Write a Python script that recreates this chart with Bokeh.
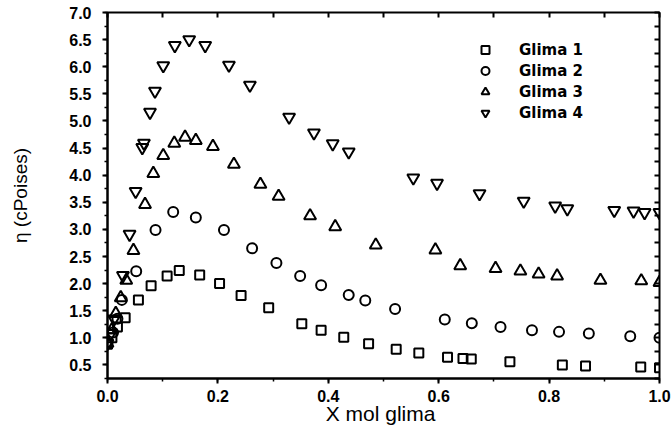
from bokeh.plotting import figure
from bokeh.models import (Range1d, LinearAxis, SingleIntervalTicker, NumeralTickFormatter,
                          Legend, LegendItem, CustomJSTickFormatter)
from bokeh.embed import file_html
from bokeh.resources import INLINE

# ---- data ----
glima1_x = [0.0, 0.008, 0.018, 0.032, 0.056, 0.079, 0.108, 0.130, 0.167, 0.203, 0.242, 0.292,
            0.352, 0.387, 0.428, 0.473, 0.523, 0.564, 0.616, 0.644, 0.659, 0.729, 0.824, 0.866,
            0.966, 1.0]
glima1_y = [0.88, 1.00, 1.20, 1.37, 1.70, 1.96, 2.14, 2.24, 2.16, 2.00, 1.78, 1.555,
            1.26, 1.14, 1.01, 0.89, 0.79, 0.72, 0.64, 0.62, 0.61, 0.56, 0.50, 0.48,
            0.46, 0.45]

glima2_x = [0.0, 0.010, 0.018, 0.026, 0.052, 0.087, 0.119, 0.160, 0.211, 0.262, 0.306, 0.349,
            0.387, 0.437, 0.467, 0.521, 0.611, 0.660, 0.712, 0.769, 0.818, 0.872, 0.947, 1.0]
glima2_y = [0.90, 1.10, 1.35, 1.70, 2.23, 2.99, 3.32, 3.22, 2.99, 2.65, 2.38, 2.14,
            1.97, 1.79, 1.69, 1.53, 1.34, 1.27, 1.20, 1.14, 1.11, 1.08, 1.03, 1.00]

glima3_x = [0.0, 0.008, 0.015, 0.024, 0.034, 0.047, 0.068, 0.083, 0.101, 0.121, 0.1405, 0.160,
            0.191, 0.229, 0.277, 0.310, 0.367, 0.4125, 0.486, 0.594, 0.639, 0.703, 0.748, 0.781,
            0.8145, 0.893, 0.967, 1.0]
glima3_y = [0.90, 1.15, 1.45, 1.74, 2.06, 2.61, 3.46, 4.03, 4.36, 4.59, 4.70, 4.64,
            4.53, 4.20, 3.83, 3.61, 3.25, 3.05, 2.71, 2.62, 2.33, 2.28, 2.23, 2.175,
            2.14, 2.06, 2.05, 2.02]

glima4_x = [0.0, 0.006, 0.012, 0.028, 0.040, 0.051, 0.063, 0.066, 0.077, 0.086, 0.101, 0.122,
            0.148, 0.177, 0.220, 0.258, 0.329, 0.374, 0.408, 0.437, 0.554, 0.597, 0.674, 0.754,
            0.811, 0.833, 0.918, 0.953, 0.973, 1.0]
glima4_y = [0.90, 1.08, 1.35, 2.15, 2.91, 3.70, 4.51, 4.59, 5.16, 5.55, 6.02, 6.39,
            6.50, 6.39, 6.03, 5.66, 5.07, 4.78, 4.58, 4.43, 3.95, 3.85, 3.66, 3.52,
            3.43, 3.38, 3.35, 3.34, 3.31, 3.31]

series_labels = ["Glima 1", "Glima 2", "Glima 3", "Glima 4"]
x_title = "X  mol glima"
y_title = "η (cPoises)"

# ---- figure ----
p = figure(width=672, height=436, output_backend="svg", toolbar_location=None,
           x_range=Range1d(0.0, 1.0), y_range=Range1d(0.25, 7.0),
           min_border_left=107, min_border_right=13, min_border_top=12, min_border_bottom=58,
           background_fill_color="white", border_fill_color="white")
p.grid.visible = False
p.outline_line_color = "black"
p.outline_line_width = 2

TICK_FONT = "Liberation Sans"

xa = p.xaxis[0]
xa.ticker = SingleIntervalTicker(interval=0.2, num_minor_ticks=2)
xa.formatter = NumeralTickFormatter(format="0.0")
ya = p.yaxis[0]
ya.ticker = SingleIntervalTicker(interval=0.5, num_minor_ticks=2)
ya.formatter = NumeralTickFormatter(format="0.0")
for ax in (xa, ya):
    ax.axis_line_width = 2
    ax.major_tick_line_width = 2
    ax.minor_tick_line_width = 1.5
    ax.major_tick_out = 5
    ax.major_tick_in = 0
    ax.minor_tick_out = 3
    ax.minor_tick_in = 0
    ax.major_label_text_font = TICK_FONT
    ax.major_label_text_font_style = "bold"
    ax.major_label_text_font_size = "16px"
    ax.major_label_text_color = "black"
    ax.axis_label_text_font = "Liberation Sans"
    ax.axis_label_text_font_style = "normal"
    ax.axis_label_text_color = "black"
xa.major_label_standoff = 6
ya.major_label_standoff = 11

xa.axis_label = x_title
xa.axis_label_text_font_size = "21px"
xa.axis_label_standoff = -3

ya.axis_label = y_title
ya.axis_label_text_font_size = "19px"
ya.axis_label_standoff = 35

blank = CustomJSTickFormatter(code="return ''")
top = LinearAxis(ticker=SingleIntervalTicker(interval=0.1, num_minor_ticks=0),
                 formatter=blank, axis_line_color=None, major_tick_in=5, major_tick_out=0,
                 major_tick_line_width=2, minor_tick_line_color=None, major_label_standoff=0)
right = LinearAxis(ticker=SingleIntervalTicker(interval=0.25, num_minor_ticks=0),
                   formatter=blank, axis_line_color=None, major_tick_in=5, major_tick_out=0,
                   major_tick_line_width=2, minor_tick_line_color=None, major_label_standoff=0)
p.add_layout(top, "above")
p.add_layout(right, "right")

style = dict(line_color="black", line_width=2, fill_color=None)
r1 = p.scatter(glima1_x, glima1_y, marker="square", size=9, **style)
r2 = p.scatter(glima2_x, glima2_y, marker="circle", size=10, **style)
r3 = p.scatter(glima3_x, glima3_y, marker="triangle", size=12, **style)
r4 = p.scatter(glima4_x, glima4_y, marker="inverted_triangle", size=12, **style)

legend = Legend(items=[LegendItem(label=series_labels[i], renderers=[r])
                       for i, r in enumerate([r1, r2, r3, r4])],
                location=(368, 255), orientation="vertical",
                border_line_color=None, background_fill_alpha=0,
                padding=0, margin=0, spacing=0,
                glyph_width=20, glyph_height=21, label_height=21, label_standoff=24,
                label_text_font="DejaVu Sans", label_text_font_style="bold",
                label_text_color="black",
                label_text_font_size="15px", label_text_baseline="middle")
p.add_layout(legend)

open("out.html", "w").write(file_html(p, INLINE))
